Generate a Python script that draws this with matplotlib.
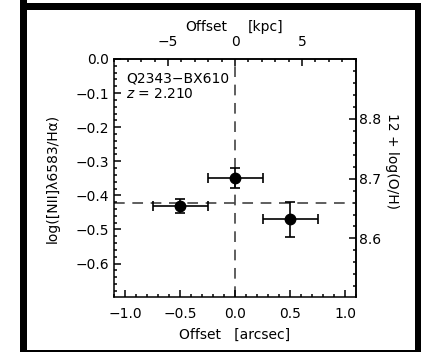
"""
[NII]/Halpha gradient across Q2343-BX610, with the kpc and O/H scales on the twin axes.
"""

import matplotlib
matplotlib.use("Agg")
import matplotlib.pyplot as plt
import matplotlib.transforms as mtransforms
from matplotlib.patches import Rectangle
from matplotlib.ticker import MultipleLocator, FixedLocator

# spatial bins (arcsec) and the N2 index measured in each
offset_arcsec = [-0.5, 0.0, 0.5]
offset_err = [0.25, 0.25, 0.25]
log_n2 = [-0.431, -0.349, -0.470]
log_n2_err = [0.021, 0.030, 0.052]

integrated_n2 = -0.421
name = "Q2343\u2212BX610"
redshift = "2.210"

kpc_per_arcsec = 8.2
oh_ticks = [8.6, 8.7, 8.8]


def n2_to_oh(n2):
    # Pettini & Pagel (2004) N2 calibration
    return 8.90 + 0.57 * n2


def oh_to_n2(oh):
    return (oh - 8.90) / 0.57


def minus(s):
    return s.replace("-", "\u2212")


plt.rcParams["font.family"] = ["DejaVu Sans"]
plt.rcParams["font.size"] = 10
plt.rcParams["axes.linewidth"] = 1.1

fig = plt.figure(figsize=(4.21, 3.52), dpi=100)
fig.patch.set_facecolor("white")

# black frame around the panel
W, H = 421.0, 352.0
for x0, y0, w, h in [(20, 0, 7, 352), (20, 342, 401, 7), (415, 0, 6, 349), (20, 0, 401, 2)]:
    fig.patches.append(Rectangle((x0 / W, y0 / H), w / W, h / H, transform=fig.transFigure,
                                 facecolor="black", edgecolor="none", zorder=0))

ax = fig.add_axes([114 / W, 1 - 297 / H, 242 / W, 238 / H])
ax.set_xlim(-1.1, 1.1)
ax.set_ylim(-0.698, 0.0)

ax.axhline(integrated_n2, color="#333333", lw=1.1, ls=(0, (7, 5)), zorder=1)
ax.axvline(0.0, color="#333333", lw=1.1, ls=(0, (7, 5)), zorder=1)

ax.errorbar(offset_arcsec, log_n2, xerr=offset_err, yerr=log_n2_err, fmt="o", color="black",
            ms=7.5, elinewidth=1.2, capsize=3.5, capthick=1.2, zorder=3)

ax.text(0.05, 0.90, name, transform=ax.transAxes, fontsize=10)
ax.text(0.05, 0.835, "$z$ = " + redshift, transform=ax.transAxes, fontsize=10)

ax.set_xlabel("Offset   [arcsec]", labelpad=5)
ax.set_ylabel("log([NII]\u03bb6583/H\u03b1)", labelpad=11)

ax.xaxis.set_major_locator(MultipleLocator(0.5))
ax.xaxis.set_minor_locator(MultipleLocator(0.1))
ax.yaxis.set_major_locator(MultipleLocator(0.1))
ax.yaxis.set_minor_locator(MultipleLocator(0.02))
ax.xaxis.set_major_formatter(lambda v, p: minus(f"{v:.1f}"))
ax.yaxis.set_major_formatter(lambda v, p: minus(f"{v:.1f}"))
ax.tick_params(which="both", direction="in", top=False, right=False, width=1.1)
ax.tick_params(which="major", length=5)
ax.tick_params(which="minor", length=2.5)
ax.tick_params(axis="x", pad=7)

# top axis in kpc
top = ax.secondary_xaxis("top", functions=(lambda a: a * kpc_per_arcsec, lambda k: k / kpc_per_arcsec))
top.xaxis.set_major_locator(MultipleLocator(5))
top.xaxis.set_minor_locator(MultipleLocator(1))
top.xaxis.set_major_formatter(lambda v, p: minus(f"{v:.0f}"))
top.tick_params(which="both", direction="in", width=1.1, pad=7)
top.tick_params(which="major", length=5)
top.tick_params(which="minor", length=2.5)

# the kpc title is split around the "0" tick label
blend = mtransforms.blended_transform_factory(ax.transData, ax.transAxes)
ax.text(-0.26, 1.134, "Offset", transform=blend, ha="center", va="center")
ax.text(0.28, 1.134, "[kpc]", transform=blend, ha="center", va="center")

# right axis in metallicity
right = ax.secondary_yaxis("right", functions=(n2_to_oh, oh_to_n2))
right.yaxis.set_major_locator(FixedLocator(oh_ticks))
right.yaxis.set_minor_locator(MultipleLocator(0.02))
right.yaxis.set_major_formatter(lambda v, p: f"{v:.1f}")
right.tick_params(which="both", direction="in", width=1.1, pad=2)
right.tick_params(which="major", length=5)
right.tick_params(which="minor", length=2.5)
ax.text(1.15, 0.57, "12 + log(O/H)", transform=ax.transAxes, rotation=270,
        ha="center", va="center")

fig.savefig("out.png", dpi=100)
